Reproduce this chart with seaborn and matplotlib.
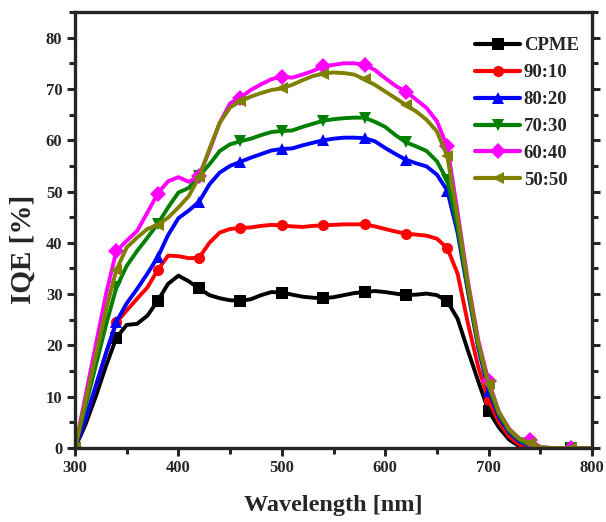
import numpy as np
import pandas as pd
import matplotlib
matplotlib.use("Agg")
import matplotlib.pyplot as plt
from matplotlib.ticker import MultipleLocator
import seaborn as sns

# Wavelength grid (nm)
wavelength = list(range(300, 801, 10))

tail = [0.0] * 5  # 760-800 nm

cpme = [0, 4.5, 10, 16, 21.5, 24, 24.2, 25.8, 28.7, 32, 33.6, 32.5, 31.1, 29.8, 29.2,
        28.8, 28.7, 29.0, 29.8, 30.4, 30.3, 29.9, 29.5, 29.3, 29.2, 29.4, 29.8, 30.2,
        30.4, 30.6, 30.4, 30.1, 29.8, 29.9, 30.1, 29.8, 28.6, 25.2, 19, 13, 7.2, 4.0,
        1.6, 0.3, 0, 0] + tail
r90_10 = [0, 5.5, 12, 18.5, 24.5, 26.8, 29.1, 31.3, 34.7, 37.5, 37.4, 37.0, 37.1, 40.0,
          42.0, 42.7, 42.9, 43.0, 43.3, 43.5, 43.4, 43.2, 43.1, 43.3, 43.4, 43.5, 43.6,
          43.6, 43.6, 43.2, 42.7, 42.2, 41.8, 41.6, 41.4, 40.8, 39.0, 34.0, 24.3, 15.8,
          9.3, 5.0, 2.2, 0.6, 0.1, 0] + tail
r80_20 = [0, 5.5, 12, 18.5, 24.6, 28.2, 31, 34, 37.2, 41.5, 44.8, 46.3, 48.0, 51.4, 53.7,
          55.0, 55.8, 56.6, 57.3, 58.0, 58.3, 58.4, 59.0, 59.5, 60.0, 60.3, 60.5, 60.5,
          60.4, 59.8, 58.5, 57.3, 56.2, 55.5, 54.9, 53.3, 50.2, 42.0, 30.5, 19.5, 11.2,
          6.0, 3.0, 1.2, 0.4, 0] + tail
r70_30 = [0, 8, 16, 24, 31.3, 35.5, 38.4, 41.0, 43.7, 46.9, 49.8, 50.7, 53.0, 55.3, 57.9,
          59.2, 59.8, 60.3, 61.0, 61.6, 61.8, 61.9, 62.6, 63.2, 63.8, 64.1, 64.3, 64.4,
          64.4, 63.6, 62.6, 61.0, 59.6, 58.8, 57.9, 55.9, 52.2, 43.0, 31.0, 20.0, 12.0,
          6.5, 3.3, 1.5, 0.5, 0] + tail
r60_40 = [0, 10, 20, 30, 38.4, 40.4, 42.3, 45.9, 49.6, 52.0, 52.8, 51.9, 53.0, 58.0, 63.4,
          67.2, 68.3, 69.8, 70.9, 71.9, 72.4, 72.2, 72.8, 73.5, 74.4, 74.7, 75.0, 75.0,
          74.7, 73.7, 72.1, 70.6, 69.5, 67.9, 66.3, 63.7, 58.8, 46.0, 32.5, 21.0, 13.0,
          7.0, 3.7, 1.8, 1.5, 0.2] + tail
r50_50 = [0, 9, 18, 27, 34.7, 39.1, 41.0, 42.7, 43.5, 44.9, 46.9, 49.1, 52.8, 58.3, 63.4,
          66.4, 67.6, 68.5, 69.2, 69.8, 70.1, 70.8, 71.7, 72.5, 73.0, 73.2, 73.1, 72.8,
          71.9, 70.8, 69.5, 68.2, 66.9, 65.6, 64.0, 61.7, 56.9, 45.0, 32.0, 20.5, 12.5,
          7.0, 3.6, 1.8, 1.0, 0.2] + tail

series_names = ["CPME", "90:10", "80:20", "70:30", "60:40", "50:50"]
series_values = [cpme, r90_10, r80_20, r70_30, r60_40, r50_50]
colors = ["#000000", "#FF0000", "#0000FF", "#008000", "#FF00FF", "#808000"]
marker_shapes = ["s", "o", "^", "v", "D", "<"]

df = pd.concat(
    [pd.DataFrame({"Wavelength": wavelength, "IQE": vals, "Sample": name})
     for name, vals in zip(series_names, series_values)],
    ignore_index=True,
)

sns.set_style("ticks")
plt.rcParams["font.family"] = ["Liberation Serif", "DejaVu Serif"]
plt.rcParams["font.weight"] = "bold"

fig = plt.figure(figsize=(6.06, 5.22), dpi=100)
ax = fig.add_axes([75 / 606, 1 - 448 / 522, (592 - 75) / 606, (448 - 12) / 522])

sns.lineplot(
    data=df, x="Wavelength", y="IQE", hue="Sample", style="Sample",
    hue_order=series_names, style_order=series_names,
    palette=dict(zip(series_names, colors)),
    markers=dict(zip(series_names, marker_shapes)),
    dashes=False, markevery=4, linewidth=2.8, markersize=8,
    markeredgewidth=0, ax=ax, legend=True,
)

ax.set_xlim(300, 800)
ax.set_ylim(0, 85)
ax.xaxis.set_major_locator(MultipleLocator(100))
ax.xaxis.set_minor_locator(MultipleLocator(50))
ax.yaxis.set_minor_locator(MultipleLocator(5))
ax.set_yticks([0, 10, 20, 30, 40, 50, 60, 70, 80])

for side in ax.spines.values():
    side.set_linewidth(2.4)
    side.set_visible(True)

ax.tick_params(which="both", direction="out", width=2.2, right=True, top=False,
               labelright=False)
ax.tick_params(which="major", length=6, labelsize=12, pad=3)
ax.tick_params(which="minor", length=4)
for lbl in ax.get_xticklabels() + ax.get_yticklabels():
    lbl.set_fontweight("bold")

ax.set_xlabel("Wavelength [nm]", fontsize=17.5, fontweight="bold")
ax.set_ylabel("IQE [%]", fontsize=21, fontweight="bold")
ax.xaxis.set_label_coords(0.5, -0.107)
ax.yaxis.set_label_coords(-0.075, 0.455)

leg = ax.legend(
    loc="upper right", bbox_to_anchor=(1.0, 0.972), frameon=False,
    prop={"family": "Liberation Serif", "weight": "bold", "size": 13.5},
    handlelength=2.4, handletextpad=0.2, labelspacing=0.52, borderaxespad=0.3,
)
for h in leg.get_lines():
    h.set_linewidth(3)
    h.set_markersize(8)

fig.savefig("out.png", dpi=100)
